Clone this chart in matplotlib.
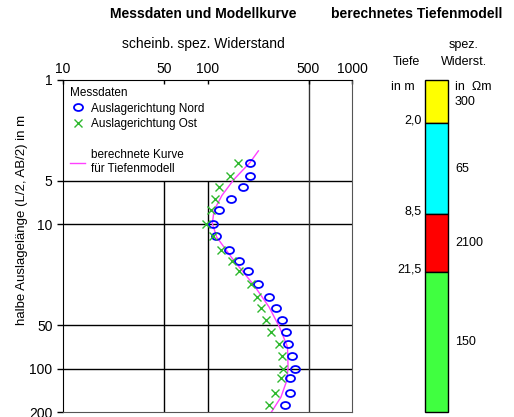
import matplotlib
matplotlib.use("Agg")
import matplotlib.pyplot as plt
from matplotlib.lines import Line2D
from matplotlib.markers import MarkerStyle
from matplotlib.transforms import Affine2D
from matplotlib.ticker import NullLocator

plt.rcParams['font.family'] = ['Liberation Sans', 'DejaVu Sans']

# Messdaten: halbe Auslagelaenge AB/2 in m und scheinbarer spez. Widerstand
ab2 = [3.75, 4.6, 5.5, 6.7, 8.0, 10, 12, 15, 18, 21, 26, 32, 38, 46, 56, 68, 82, 100, 117, 148, 180]
rho_nord = [196, 196, 175, 145, 121, 110, 115, 140, 166, 190, 222, 267, 300, 327, 352, 361, 385, 404, 375, 373, 346]
rho_ost = [163, 142, 120, 112, 105, 98, 110, 124, 147, 166, 200, 221, 235, 256, 277, 311, 327, 332, 321, 293, 265]

# berechnete Kurve fuer das Tiefenmodell
ab2_kurve = [3.1, 3.75, 4.9, 6.3, 8.0, 9.9, 12.3, 17.8, 26.5, 37.5, 52, 71, 98, 121, 158, 200]
rho_kurve = [225, 196, 152, 126, 111, 108, 116, 152, 210, 267, 316, 358, 361, 354, 322, 277]

# Tiefenmodell
depth_bounds = [1, 2.0, 8.5, 21.5, 200]
depth_labels = ['2,0', '8,5', '21,5']
layer_rho = ['300', '65', '2100', '150']
layer_colors = ['#FFFF00', '#00FFFF', '#FF0000', '#40FF40']

xticks = [10, 50, 100, 500, 1000]
yticks = [1, 5, 10, 50, 100, 200]

W, H = 514, 417
fig = plt.figure(figsize=(W / 100, H / 100), dpi=100)

ax = fig.add_axes([63 / W, 5 / H, 289 / W, 332 / H])
ax.set_xscale('log')
ax.set_yscale('log')
ax.set_xlim(10, 1000)
ax.set_ylim(200, 1)

ax.xaxis.tick_top()
ax.set_xticks(xticks)
ax.set_xticklabels([str(v) for v in xticks])
ax.set_yticks(yticks)
ax.set_yticklabels([str(v) for v in yticks])
ax.xaxis.set_minor_locator(NullLocator())
ax.yaxis.set_minor_locator(NullLocator())
ax.tick_params(axis='x', direction='in', length=3, width=1, pad=3, labelsize=10)
ax.tick_params(axis='y', direction='out', length=4.5, width=1, pad=3, labelsize=10)
for s in ['left', 'top']:
    ax.spines[s].set_color('black')
for s in ['right', 'bottom']:
    ax.spines[s].set_color('#555555')

# Gitterlinien
for y in [5, 10, 50, 100]:
    ax.axhline(y, color='black', lw=1, zorder=1)
ax.vlines([50, 100], 5, 200, color='black', lw=1, zorder=1)
ax.axvline(500, color='#333333', lw=1, zorder=1)

ring = MarkerStyle('o', transform=Affine2D().scale(1.3, 1.0))
ax.plot(rho_kurve, ab2_kurve, color='#FF40FF', lw=1, zorder=2)
ax.plot(rho_nord, ab2, ls='none', marker=ring, mfc='none', mec='#0000FF', ms=5, mew=1.3, zorder=3)
ax.plot(rho_ost, ab2, 'x', color='#2EB82E', ms=6, mew=1.0, zorder=3)

handles = [
    Line2D([], [], ls='none', marker=ring, mfc='none', mec='#0000FF', ms=5, mew=1.3),
    Line2D([], [], ls='none', marker='x', color='#2EB82E', ms=6, mew=1.0),
    Line2D([], [], ls='none'),
    Line2D([], [], color='#FF40FF', lw=1),
]
labels = ['Auslagerichtung Nord', 'Auslagerichtung Ost', '', 'berechnete Kurve\nfür Tiefenmodell']
leg = ax.legend(handles, labels, title='Messdaten', loc='upper left', frameon=False,
                fontsize=8.5, title_fontsize=8.5, alignment='left', handlelength=1.3,
                handletextpad=0.5, labelspacing=0.3, borderaxespad=0.2,
                bbox_to_anchor=(0.0, 1.0))

ax.set_ylabel('halbe Auslagelänge (L/2, AB/2) in m', fontsize=9.5)
ax.yaxis.set_label_coords(-0.121, 0.578)

fig.text(203 / W, 1 - 14 / H, 'Messdaten und Modellkurve', ha='center', va='center',
         fontsize=10, fontweight='bold')
fig.text(203 / W, 1 - 44 / H, 'scheinb. spez. Widerstand', ha='center', va='center', fontsize=10)

# Tiefenmodell als Saeule
ax2 = fig.add_axes([425 / W, 5 / H, 23 / W, 332 / H])
ax2.set_yscale('log')
ax2.set_ylim(200, 1)
ax2.set_xlim(0, 1)
ax2.axis('off')
for top, bot, col in zip(depth_bounds[:-1], depth_bounds[1:], layer_colors):
    ax2.bar(0.5, bot - top, bottom=top, width=1, color=col, edgecolor='black', lw=1, clip_on=False)

tr = ax2.get_yaxis_transform()
for d, lab in zip(depth_bounds[1:-1], depth_labels):
    ax2.text(-0.15, d * 0.96, lab, transform=tr, ha='right', va='center', fontsize=9)
for top, bot, lab in zip(depth_bounds[:-1], depth_bounds[1:], layer_rho):
    ax2.text(1.3, (top * bot) ** 0.5, lab, transform=tr, ha='left', va='center', fontsize=9)

fig.text(417 / W, 1 - 14 / H, 'berechnetes Tiefenmodell', ha='center', va='center',
         fontsize=10, fontweight='bold')
fig.text(406 / W, 1 - 62 / H, 'Tiefe', ha='center', va='center', fontsize=9)
fig.text(464 / W, 1 - 45 / H, 'spez.', ha='center', va='center', fontsize=9)
fig.text(464 / W, 1 - 62 / H, 'Widerst.', ha='center', va='center', fontsize=9)
fig.text(403 / W, 1 - 87 / H, 'in m', ha='center', va='center', fontsize=9)
fig.text(455 / W, 1 - 87 / H, 'in  Ωm', ha='left', va='center', fontsize=9)

fig.savefig('out.png', dpi=100)
